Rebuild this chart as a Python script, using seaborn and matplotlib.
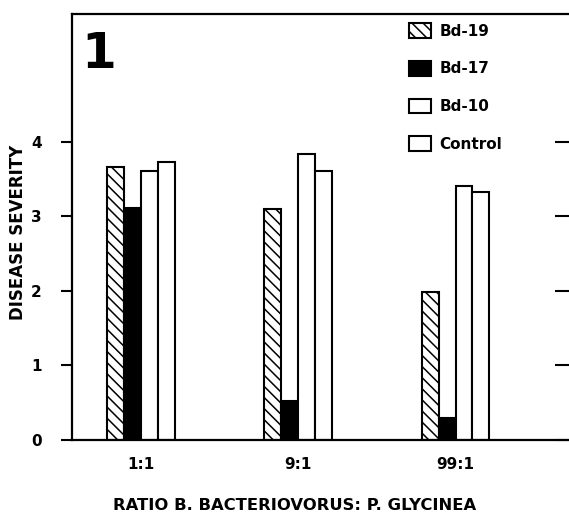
import matplotlib
matplotlib.use("Agg")
import matplotlib.pyplot as plt
import seaborn as sns
import pandas as pd
from matplotlib.patches import Patch

ratios = ["1:1", "9:1", "99:1"]
strains = ["Bd-19", "Bd-17", "Bd-10", "Control"]
bd19 = [3.66, 3.09, 1.98]
bd17 = [3.11, 0.52, 0.29]
bd10 = [3.61, 3.84, 3.41]
control = [3.72, 3.61, 3.33]
yticks = [0, 1, 2, 3, 4]

rows = []
for name, vals in zip(strains, [bd19, bd17, bd10, control]):
    for r, v in zip(ratios, vals):
        rows.append({"ratio": r, "strain": name, "severity": v})
df = pd.DataFrame(rows)

sns.set_theme(style="white")
FONT = ["Liberation Sans Narrow", "DejaVu Sans"]
plt.rcParams["font.family"] = FONT
plt.rcParams["font.weight"] = "bold"
plt.rcParams["hatch.linewidth"] = 1.1
plt.rcParams["text.color"] = "black"
plt.rcParams["axes.labelcolor"] = "black"
plt.rcParams["xtick.color"] = "black"
plt.rcParams["ytick.color"] = "black"

fig = plt.figure(figsize=(5.69, 5.16), dpi=100)
W, H = 569, 516
ax = fig.add_axes([72 / W, 1 - 440 / H, (572 - 72) / W, (440 - 14) / H])

sns.barplot(data=df, x="ratio", y="severity", hue="strain", order=ratios,
            hue_order=strains, width=0.43, ax=ax, legend=False,
            palette=["white", "black", "white", "white"], saturation=1)

styles = {
    "Bd-19": dict(facecolor="white", hatch="\\\\\\"),
    "Bd-17": dict(facecolor="black", hatch=None),
    "Bd-10": dict(facecolor="white", hatch=None),
    "Control": dict(facecolor="white", hatch=None),
}
for cont, name in zip(ax.containers, strains):
    for bar in cont:
        bar.set_facecolor(styles[name]["facecolor"])
        bar.set_edgecolor("black")
        bar.set_linewidth(1.5)
        if styles[name]["hatch"]:
            bar.set_hatch(styles[name]["hatch"])

ax.set_xlim(-0.437, 2.74)
ax.set_ylim(0, 5.71)
ax.set_yticks(yticks)
ax.set_yticklabels([str(t) for t in yticks], fontsize=11, fontweight="bold")
ax.set_xticks(range(len(ratios)))
ax.set_xticklabels(ratios, fontsize=11, fontweight="bold")
ax.tick_params(axis="x", length=0, pad=12)
ax.tick_params(axis="y", left=True, right=True, direction="out", length=8,
               width=1.5, colors="black", pad=14)
for t in ax.yaxis.get_major_ticks():
    t.tick2line.set_marker(matplotlib.lines.TICKLEFT)
    t.tick2line.set_markersize(12)
    t.tick2line.set_markeredgewidth(1.5)

for s in ["left", "top", "bottom", "right"]:
    ax.spines[s].set_color("black")
    ax.spines[s].set_linewidth(1.6)

ax.set_ylabel("DISEASE SEVERITY", fontsize=12, fontweight="bold", color="black")
ax.yaxis.set_label_coords(-0.09, 0.488)
ax.set_xlabel("RATIO B. BACTERIOVORUS: P. GLYCINEA", fontsize=11.8,
              fontweight="bold", color="black")
ax.xaxis.set_label_coords((295 - 72) / 500, -0.135)

ax.text(0.018, 0.962, "1", transform=ax.transAxes, fontsize=36,
        fontweight="heavy", va="top", ha="left", color="black")

handles = [Patch(facecolor=styles[n]["facecolor"], edgecolor="black",
                 hatch=styles[n]["hatch"], linewidth=1.5) for n in strains]
leg = ax.legend(handles, strains, loc="upper left",
                bbox_to_anchor=((400 - 72) / 500, 1.0), frameon=False,
                fontsize=11, labelspacing=1.45, handlelength=1.4,
                handleheight=1.1, handletextpad=0.6, borderaxespad=0.2)
for t in leg.get_texts():
    t.set_fontweight("bold")
    t.set_color("black")

fig.savefig("out.png", dpi=100)
